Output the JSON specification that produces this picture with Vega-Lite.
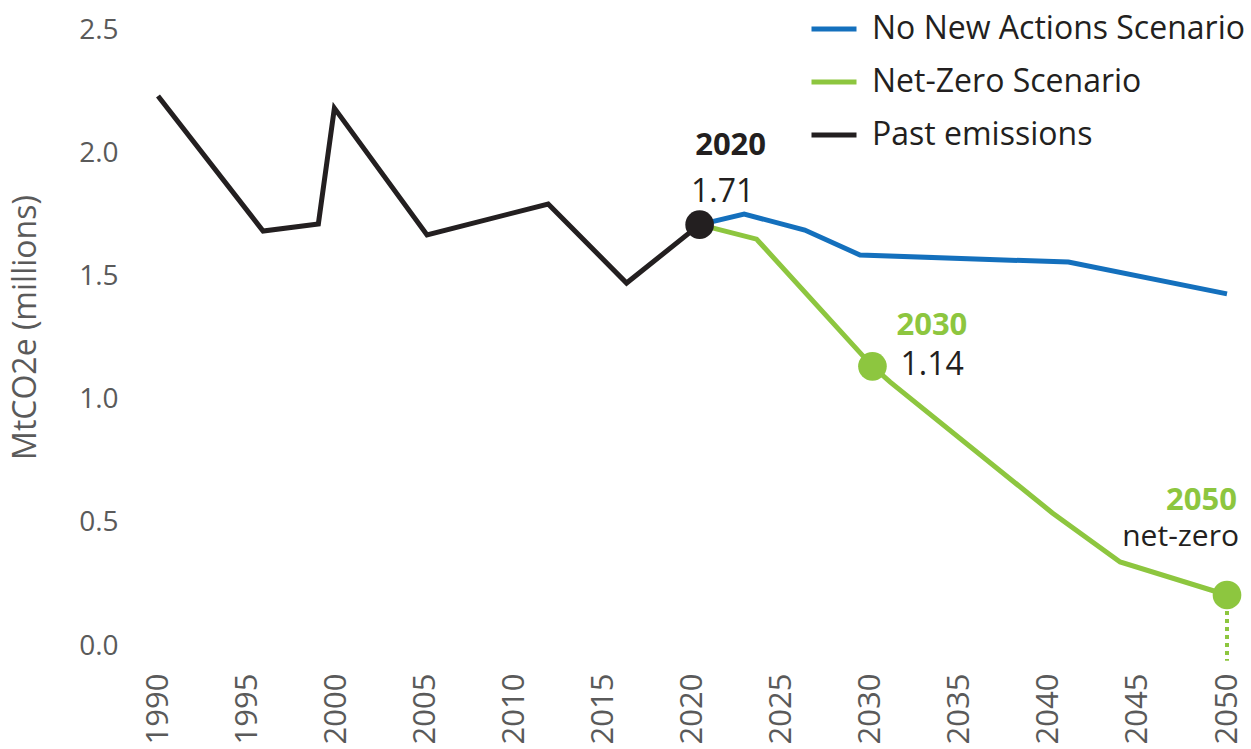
{
  "$schema": "https://vega.github.io/schema/vega-lite/v6.json",
  "width": 1069,
  "height": 616,
  "autosize": {"type": "none"},
  "padding": {"left": 158, "top": 30, "right": 24, "bottom": 103},
  "background": "white",
  "config": {
    "view": {"stroke": null},
    "font": "Open Sans",
    "axis": {"grid": false, "domain": false, "ticks": false, "labelColor": "#5a5a5a", "labelFont": "Open Sans", "titleFont": "Open Sans"},
    "legend": {"orient": "none", "legendX": 651, "legendY": -26, "padding": 0, "labelFontSize": 32, "labelLimit": 0, "labelColor": "#231f20", "labelFont": "Open Sans", "symbolType": "stroke", "symbolSize": 2025, "symbolStrokeWidth": 5, "labelOffset": 13, "rowPadding": 12}
  },
  "datasets": {
    "lines": [
      {"series": "Past emissions", "year": 1990, "value": 2.232},
      {"series": "Past emissions", "year": 1995.9, "value": 1.684},
      {"series": "Past emissions", "year": 1999, "value": 1.713},
      {"series": "Past emissions", "year": 1999.9, "value": 2.183},
      {"series": "Past emissions", "year": 2005.1, "value": 1.668},
      {"series": "Past emissions", "year": 2011.9, "value": 1.794},
      {"series": "Past emissions", "year": 2016.3, "value": 1.473},
      {"series": "Past emissions", "year": 2020.4, "value": 1.71},
      {"series": "No New Actions Scenario", "year": 2020.4, "value": 1.71},
      {"series": "No New Actions Scenario", "year": 2022.9, "value": 1.753},
      {"series": "No New Actions Scenario", "year": 2026.3, "value": 1.688},
      {"series": "No New Actions Scenario", "year": 2029.4, "value": 1.587},
      {"series": "No New Actions Scenario", "year": 2041.1, "value": 1.558},
      {"series": "No New Actions Scenario", "year": 2050, "value": 1.429},
      {"series": "Net-Zero Scenario", "year": 2020.4, "value": 1.71},
      {"series": "Net-Zero Scenario", "year": 2023.6, "value": 1.651},
      {"series": "Net-Zero Scenario", "year": 2030.1, "value": 1.135},
      {"series": "Net-Zero Scenario", "year": 2031.1, "value": 1.071},
      {"series": "Net-Zero Scenario", "year": 2040.2, "value": 0.54},
      {"series": "Net-Zero Scenario", "year": 2044, "value": 0.341},
      {"series": "Net-Zero Scenario", "year": 2050, "value": 0.207}
    ],
    "points": [
      {"series": "Past emissions", "year": 2020.4, "value": 1.71, "tag": "2020", "note": "1.71"},
      {"series": "Net-Zero Scenario", "year": 2030.1, "value": 1.135, "tag": "2030", "note": "1.14"},
      {"series": "Net-Zero Scenario", "year": 2050, "value": 0.207, "tag": "2050", "note": "net-zero"}
    ]
  },
  "encoding": {
    "x": {
      "field": "year", "type": "quantitative", "title": null,
      "scale": {"domain": [1990, 2050], "nice": false, "zero": false},
      "axis": {"values": [1990, 1995, 2000, 2005, 2010, 2015, 2020, 2025, 2030, 2035, 2040, 2045, 2050], "format": "d", "labelAngle": -90, "labelFontSize": 31, "labelPadding": 27}
    },
    "y": {
      "field": "value", "type": "quantitative", "title": "MtCO2e (millions)",
      "scale": {"domain": [0, 2.5], "nice": false},
      "axis": {"values": [0, 0.5, 1, 1.5, 2, 2.5], "format": ".1f", "labelFontSize": 28, "labelPadding": 40, "titleFontSize": 32, "titleFontWeight": "normal", "titleColor": "#5a5a5a", "titlePadding": 36, "titleY": 297}
    }
  },
  "layer": [
    {
      "data": {"name": "points"},
      "transform": [{"filter": "datum.tag == '2050'"}],
      "mark": {"type": "rule", "color": "#8dc63f", "strokeWidth": 4, "strokeDash": [4, 4]},
      "encoding": {"y2": {"datum": -0.06}}
    },
    {
      "data": {"name": "lines"},
      "mark": {"type": "line", "strokeWidth": 5, "strokeJoin": "miter"},
      "encoding": {
        "color": {
          "field": "series", "type": "nominal", "title": null,
          "scale": {"domain": ["No New Actions Scenario", "Net-Zero Scenario", "Past emissions"], "range": ["#1470bd", "#8dc63f", "#231f20"]}
        }
      }
    },
    {
      "data": {"name": "points"},
      "transform": [{"filter": "datum.tag == '2020'"}],
      "mark": {"type": "circle", "size": 820, "opacity": 1, "color": "#231f20"}
    },
    {
      "data": {"name": "points"},
      "transform": [{"filter": "datum.tag != '2020'"}],
      "mark": {"type": "circle", "size": 820, "opacity": 1, "color": "#8dc63f"}
    },
    {
      "data": {"name": "points"},
      "transform": [{"filter": "datum.tag == '2020'"}],
      "mark": {"type": "text", "font": "Open Sans", "fontSize": 31, "fontWeight": "bold", "color": "#231f20", "align": "center", "baseline": "alphabetic", "dx": 31, "dy": -70},
      "encoding": {"text": {"field": "tag"}}
    },
    {
      "data": {"name": "points"},
      "transform": [{"filter": "datum.tag == '2020'"}],
      "mark": {"type": "text", "font": "Open Sans", "fontSize": 32, "color": "#231f20", "align": "center", "baseline": "alphabetic", "dx": 23, "dy": -23},
      "encoding": {"text": {"field": "note"}}
    },
    {
      "data": {"name": "points"},
      "transform": [{"filter": "datum.tag == '2030'"}],
      "mark": {"type": "text", "font": "Open Sans", "fontSize": 31, "fontWeight": "bold", "color": "#8dc63f", "align": "left", "baseline": "alphabetic", "dx": 24, "dy": -31},
      "encoding": {"text": {"field": "tag"}}
    },
    {
      "data": {"name": "points"},
      "transform": [{"filter": "datum.tag == '2030'"}],
      "mark": {"type": "text", "font": "Open Sans", "fontSize": 32, "color": "#231f20", "align": "left", "baseline": "alphabetic", "dx": 28, "dy": 9},
      "encoding": {"text": {"field": "note"}}
    },
    {
      "data": {"name": "points"},
      "transform": [{"filter": "datum.tag == '2050'"}],
      "mark": {"type": "text", "font": "Open Sans", "fontSize": 31, "fontWeight": "bold", "color": "#8dc63f", "align": "right", "baseline": "alphabetic", "dx": 10, "dy": -85},
      "encoding": {"text": {"field": "tag"}}
    },
    {
      "data": {"name": "points"},
      "transform": [{"filter": "datum.tag == '2050'"}],
      "mark": {"type": "text", "font": "Open Sans", "fontSize": 30, "color": "#231f20", "align": "right", "baseline": "alphabetic", "dx": 12, "dy": -49},
      "encoding": {"text": {"field": "note"}}
    }
  ]
}
